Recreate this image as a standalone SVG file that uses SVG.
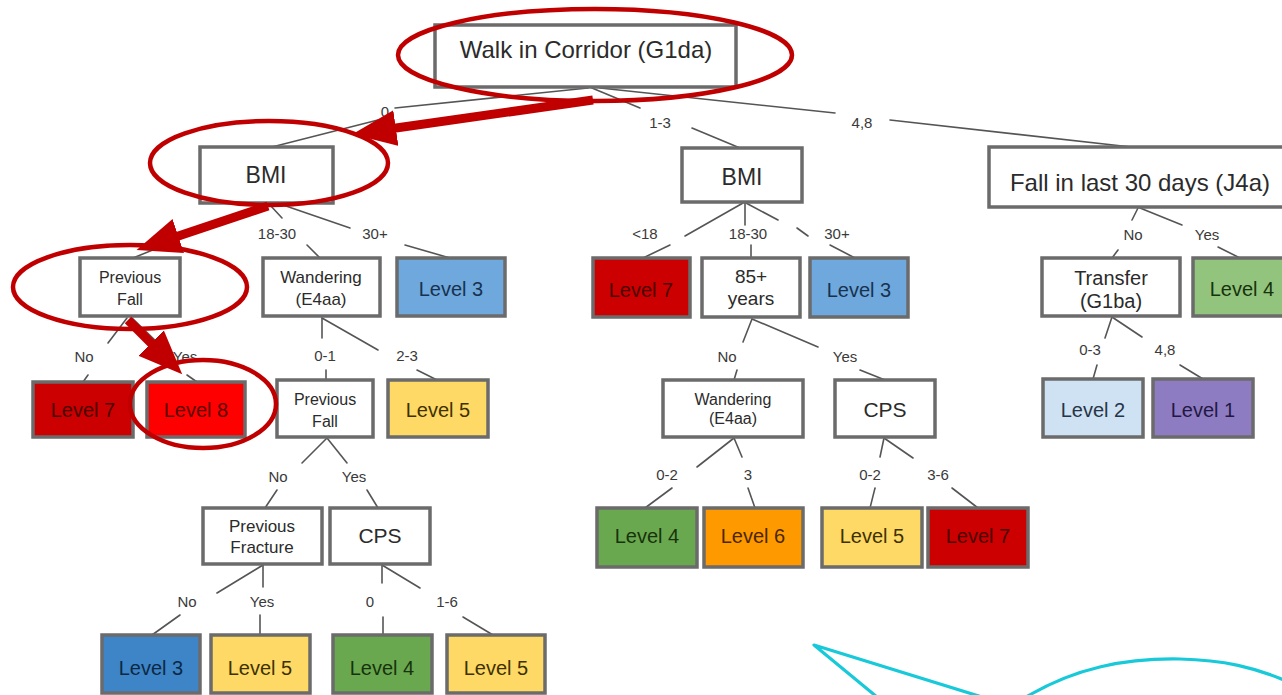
<svg xmlns="http://www.w3.org/2000/svg" width="1282" height="695" viewBox="0 0 1282 695">
  <style>
    text { font-family: "Liberation Sans", Arial, sans-serif; text-anchor: middle; }
    .box { stroke: #6b6b6b; stroke-width: 3.5; }
    .q { fill: #ffffff; }
    .t { fill: #2b2b2b; }
    .lbl { font-size: 15px; fill: #3a3a3a; }
    .lvl { font-size: 20px; }
    .con line { stroke: #555555; stroke-width: 1.6; stroke-linecap: round; }
    .hl { fill: none; stroke: #c00000; stroke-width: 4.5; }
    .arw { stroke: #c00000; stroke-width: 9; fill: none; }
    .sketch { fill: none; stroke: #18c9d9; stroke-width: 3.2; stroke-linejoin: round; stroke-linecap: round; }
  </style>
  <defs>
    <marker id="head" markerUnits="userSpaceOnUse" markerWidth="46" markerHeight="38" refX="14" refY="18" orient="auto">
      <path d="M0,0 L44,18 L0,36 Z" fill="#c00000"/>
    </marker>
  </defs>

  <rect width="1282" height="695" fill="#ffffff"/>

  <!-- connectors, split around their value labels -->
  <g id="connectors" class="con">
    <!-- root -->
    <line x1="588" y1="88" x2="395" y2="108"/>
    <line x1="378" y1="120" x2="268" y2="148"/>
    <line x1="592" y1="88" x2="640" y2="108"/>
    <line x1="692" y1="128" x2="740" y2="148"/>
    <line x1="600" y1="88" x2="835" y2="113"/>
    <line x1="890" y1="120" x2="1140" y2="148"/>
    <!-- BMI (left) -->
    <line x1="266" y1="204" x2="133" y2="258"/>
    <line x1="270" y1="205" x2="282" y2="218"/>
    <line x1="307" y1="245" x2="320" y2="258"/>
    <line x1="283" y1="205" x2="350" y2="228"/>
    <line x1="405" y1="245" x2="450" y2="258"/>
    <!-- Previous Fall (left) -->
    <line x1="127" y1="318" x2="108" y2="343"/>
    <line x1="88" y1="375" x2="83" y2="382"/>
    <line x1="132" y1="318" x2="160" y2="345"/>
    <line x1="187" y1="375" x2="197" y2="382"/>
    <!-- Wandering (left) -->
    <line x1="322" y1="318" x2="322" y2="338"/>
    <line x1="326" y1="370" x2="326" y2="380"/>
    <line x1="322" y1="318" x2="378" y2="350"/>
    <line x1="417" y1="370" x2="437" y2="380"/>
    <!-- Previous Fall (middle) -->
    <line x1="327" y1="438" x2="302" y2="463"/>
    <line x1="277" y1="490" x2="265" y2="508"/>
    <line x1="327" y1="438" x2="347" y2="463"/>
    <line x1="367" y1="490" x2="378" y2="508"/>
    <!-- Previous Fracture -->
    <line x1="263" y1="565" x2="217" y2="593"/>
    <line x1="180" y1="615" x2="152" y2="635"/>
    <line x1="263" y1="565" x2="263" y2="587"/>
    <line x1="260" y1="615" x2="260" y2="635"/>
    <!-- CPS (left) -->
    <line x1="382" y1="565" x2="382" y2="583"/>
    <line x1="383" y1="617" x2="383" y2="635"/>
    <line x1="382" y1="565" x2="420" y2="588"/>
    <line x1="463" y1="617" x2="493" y2="635"/>
    <!-- BMI (middle) -->
    <line x1="743" y1="203" x2="685" y2="236"/>
    <line x1="670" y1="245" x2="643" y2="258"/>
    <line x1="745" y1="203" x2="745" y2="225"/>
    <line x1="751" y1="245" x2="751" y2="258"/>
    <line x1="746" y1="203" x2="778" y2="220"/>
    <line x1="797" y1="228" x2="808" y2="236"/>
    <line x1="830" y1="245" x2="855" y2="258"/>
    <!-- 85+ years -->
    <line x1="752" y1="319" x2="743" y2="342"/>
    <line x1="737" y1="370" x2="734" y2="380"/>
    <line x1="752" y1="319" x2="818" y2="347"/>
    <line x1="860" y1="370" x2="885" y2="380"/>
    <!-- Wandering (middle) -->
    <line x1="734" y1="438" x2="697" y2="467"/>
    <line x1="672" y1="488" x2="645" y2="508"/>
    <line x1="734" y1="438" x2="742" y2="457"/>
    <line x1="748" y1="488" x2="755" y2="508"/>
    <!-- CPS (middle) -->
    <line x1="884" y1="438" x2="880" y2="457"/>
    <line x1="875" y1="488" x2="870" y2="508"/>
    <line x1="884" y1="438" x2="913" y2="458"/>
    <line x1="952" y1="488" x2="978" y2="508"/>
    <!-- Fall in last 30 days -->
    <line x1="1138" y1="208" x2="1132" y2="220"/>
    <line x1="1118" y1="250" x2="1112" y2="258"/>
    <line x1="1140" y1="208" x2="1182" y2="225"/>
    <line x1="1218" y1="247" x2="1240" y2="258"/>
    <!-- Transfer -->
    <line x1="1112" y1="317" x2="1105" y2="338"/>
    <line x1="1097" y1="365" x2="1093" y2="379"/>
    <line x1="1112" y1="317" x2="1142" y2="337"/>
    <line x1="1180" y1="365" x2="1203" y2="379"/>
  </g>

  <!-- value labels on the branches -->
  <g id="branch-labels" class="lbl">
    <text x="385" y="117">0</text>
    <text x="660" y="128">1-3</text>
    <text x="862" y="128">4,8</text>
    <text x="277" y="239">18-30</text>
    <text x="375" y="239">30+</text>
    <text x="84" y="362">No</text>
    <text x="185" y="362">Yes</text>
    <text x="325" y="361">0-1</text>
    <text x="407" y="361">2-3</text>
    <text x="278" y="482">No</text>
    <text x="354" y="482">Yes</text>
    <text x="187" y="607">No</text>
    <text x="262" y="607">Yes</text>
    <text x="370" y="607">0</text>
    <text x="447" y="607">1-6</text>
    <text x="645" y="239">&lt;18</text>
    <text x="748" y="239">18-30</text>
    <text x="837" y="239">30+</text>
    <text x="727" y="362">No</text>
    <text x="845" y="362">Yes</text>
    <text x="667" y="480">0-2</text>
    <text x="748" y="480">3</text>
    <text x="870" y="480">0-2</text>
    <text x="938" y="480">3-6</text>
    <text x="1133" y="240">No</text>
    <text x="1207" y="240">Yes</text>
    <text x="1090" y="355">0-3</text>
    <text x="1165" y="355">4,8</text>
  </g>

  <!-- question nodes -->
  <g id="walk-corridor"><rect class="box q" x="435" y="25" width="301" height="62"/><text class="t" x="586" y="58" font-size="24">Walk in Corridor (G1da)</text></g>
  <g id="bmi-left"><rect class="box q" x="200" y="147" width="133" height="56"/><text class="t" x="266" y="183" font-size="23">BMI</text></g>
  <g id="prev-fall-left"><rect class="box q" x="80" y="258" width="100" height="58"/><text class="t" x="130" y="283" font-size="16">Previous</text><text class="t" x="130" y="305" font-size="16">Fall</text></g>
  <g id="wandering-left"><rect class="box q" x="263" y="258" width="117" height="58"/><text class="t" x="321" y="283" font-size="17">Wandering</text><text class="t" x="321" y="305" font-size="17">(E4aa)</text></g>
  <g id="prev-fall-mid"><rect class="box q" x="277" y="380" width="96" height="57"/><text class="t" x="325" y="405" font-size="16">Previous</text><text class="t" x="325" y="427" font-size="16">Fall</text></g>
  <g id="prev-fracture"><rect class="box q" x="203" y="508" width="119" height="56"/><text class="t" x="262" y="532" font-size="17">Previous</text><text class="t" x="262" y="553" font-size="17">Fracture</text></g>
  <g id="cps-left"><rect class="box q" x="330" y="508" width="100" height="56"/><text class="t" x="380" y="543" font-size="21">CPS</text></g>
  <g id="bmi-mid"><rect class="box q" x="682" y="148" width="120" height="54"/><text class="t" x="742" y="185" font-size="23">BMI</text></g>
  <g id="age-85"><rect class="box q" x="702" y="258" width="98" height="59"/><text class="t" x="751" y="283" font-size="19">85+</text><text class="t" x="751" y="305" font-size="19">years</text></g>
  <g id="wandering-mid"><rect class="box q" x="663" y="380" width="140" height="57"/><text class="t" x="733" y="405" font-size="16">Wandering</text><text class="t" x="733" y="424" font-size="16">(E4aa)</text></g>
  <g id="cps-mid"><rect class="box q" x="835" y="380" width="100" height="57"/><text class="t" x="885" y="417" font-size="21">CPS</text></g>
  <g id="fall-30"><rect class="box q" x="989" y="147" width="296" height="60"/><text class="t" x="1140" y="191" font-size="24">Fall in last 30 days (J4a)</text></g>
  <g id="transfer"><rect class="box q" x="1042" y="258" width="138" height="58"/><text class="t" x="1111" y="285" font-size="20">Transfer</text><text class="t" x="1111" y="308" font-size="20">(G1ba)</text></g>

  <!-- outcome levels -->
  <g id="lvl3-a"><rect class="box" fill="#6fa8dc" x="397" y="258" width="108" height="58"/><text class="lvl" fill="#17324f" x="451" y="296">Level 3</text></g>
  <g id="lvl7-a"><rect class="box" fill="#cc0000" x="33" y="382" width="100" height="55"/><text class="lvl" fill="#4a0000" x="83" y="417">Level 7</text></g>
  <g id="lvl8"><rect class="box" fill="#ff0000" x="147" y="382" width="98" height="55"/><text class="lvl" fill="#5a0000" x="196" y="417">Level 8</text></g>
  <g id="lvl5-a"><rect class="box" fill="#ffd966" x="388" y="380" width="100" height="57"/><text class="lvl" fill="#3d3100" x="438" y="417">Level 5</text></g>
  <g id="lvl3-b"><rect class="box" fill="#3d85c6" x="102" y="635" width="98" height="58"/><text class="lvl" fill="#0c2845" x="151" y="675">Level 3</text></g>
  <g id="lvl5-b"><rect class="box" fill="#ffd966" x="211" y="635" width="99" height="58"/><text class="lvl" fill="#3d3100" x="260" y="675">Level 5</text></g>
  <g id="lvl4-a"><rect class="box" fill="#6aa84f" x="333" y="635" width="99" height="58"/><text class="lvl" fill="#17330d" x="382" y="675">Level 4</text></g>
  <g id="lvl5-c"><rect class="box" fill="#ffd966" x="447" y="635" width="98" height="58"/><text class="lvl" fill="#3d3100" x="496" y="675">Level 5</text></g>
  <g id="lvl7-b"><rect class="box" fill="#cc0000" x="593" y="258" width="97" height="59"/><text class="lvl" fill="#4a0000" x="641" y="297">Level 7</text></g>
  <g id="lvl3-c"><rect class="box" fill="#6fa8dc" x="810" y="258" width="98" height="59"/><text class="lvl" fill="#17324f" x="859" y="297">Level 3</text></g>
  <g id="lvl4-b"><rect class="box" fill="#6aa84f" x="597" y="508" width="100" height="59"/><text class="lvl" fill="#17330d" x="647" y="543">Level 4</text></g>
  <g id="lvl6"><rect class="box" fill="#ff9900" x="704" y="508" width="99" height="59"/><text class="lvl" fill="#4a2700" x="753" y="543">Level 6</text></g>
  <g id="lvl5-d"><rect class="box" fill="#ffd966" x="822" y="508" width="100" height="59"/><text class="lvl" fill="#3d3100" x="872" y="543">Level 5</text></g>
  <g id="lvl7-c"><rect class="box" fill="#cc0000" x="928" y="508" width="100" height="59"/><text class="lvl" fill="#4a0000" x="978" y="543">Level 7</text></g>
  <g id="lvl4-c"><rect class="box" fill="#93c47d" x="1193" y="258" width="92" height="58"/><text class="lvl" fill="#17330d" x="1242" y="296">Level 4</text></g>
  <g id="lvl2"><rect class="box" fill="#cfe2f3" x="1043" y="379" width="100" height="58"/><text class="lvl" fill="#263547" x="1093" y="417">Level 2</text></g>
  <g id="lvl1"><rect class="box" fill="#8e7cc3" x="1153" y="379" width="100" height="58"/><text class="lvl" fill="#221943" x="1203" y="417">Level 1</text></g>

  <!-- red annotation: highlighted path -->
  <g id="highlight">
    <ellipse class="hl" cx="595" cy="55" rx="197" ry="46"/>
    <ellipse class="hl" cx="269" cy="163" rx="119" ry="42"/>
    <ellipse class="hl" cx="130" cy="287" rx="117" ry="42"/>
    <ellipse class="hl" cx="203" cy="404" rx="73" ry="44"/>
    <line class="arw" x1="593" y1="100" x2="382" y2="130" marker-end="url(#head)"/>
    <line class="arw" x1="268" y1="206" x2="165" y2="240.5" marker-end="url(#head)"/>
    <line class="arw" x1="128" y1="320" x2="161" y2="353" marker-end="url(#head)"/>
  </g>

  <!-- cyan pen strokes -->
  <g id="pen-strokes">
    <path class="sketch" d="M877,697 L814,645 L982,697"/>
    <path class="sketch" d="M1026,697 C1075,668 1125,658 1180,659 C1225,660 1255,668 1284,680"/>
  </g>
</svg>
